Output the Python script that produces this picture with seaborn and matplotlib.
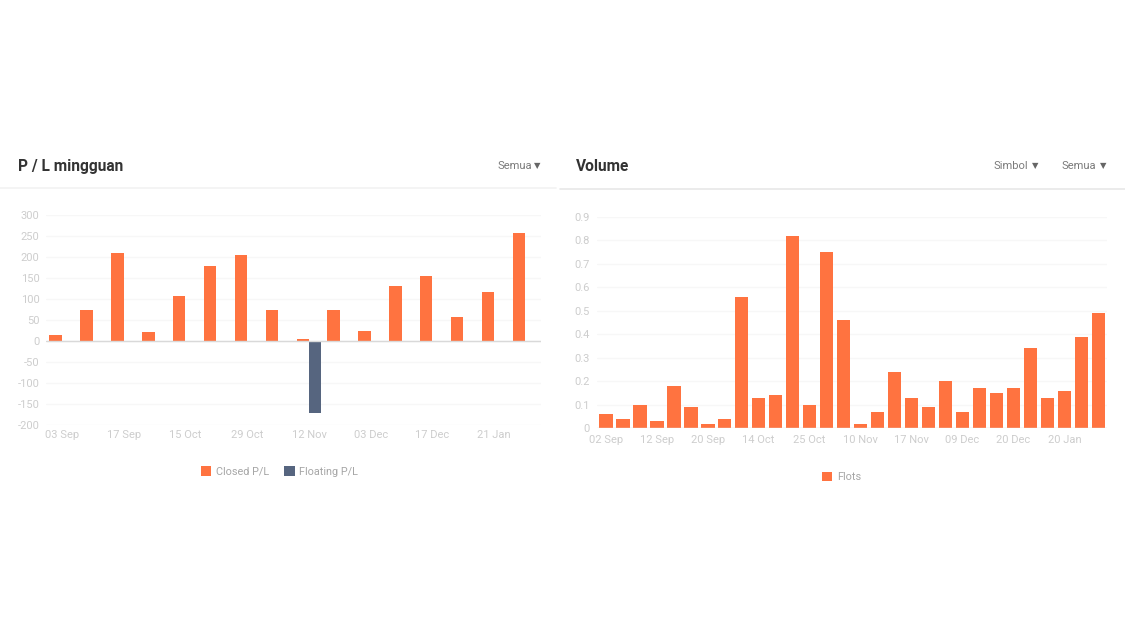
import matplotlib
matplotlib.use('Agg')
import matplotlib.pyplot as plt
from matplotlib.lines import Line2D
import seaborn as sns
import numpy as np
import pandas as pd

# weekly P/L chart
pl_weeks = ["03 Sep", "10 Sep", "17 Sep", "24 Sep", "15 Oct", "22 Oct", "29 Oct", "05 Nov",
            "12 Nov", "19 Nov", "03 Dec", "10 Dec", "17 Dec", "07 Jan", "21 Jan", "28 Jan"]
closed_pl = [14, 75, 209, 21, 107, 178, 205, 74, 5, 75, 25, 130, 155, 58, 117, 257]
floating_pl = [np.nan] * 8 + [-172] + [np.nan] * 7
pl_yticks = [-200, -150, -100, -50, 0, 50, 100, 150, 200, 250, 300]

# volume chart
vol_days = ["02 Sep", "04 Sep", "09 Sep", "12 Sep", "13 Sep", "18 Sep", "20 Sep", "24 Sep", "30 Sep",
            "14 Oct", "15 Oct", "22 Oct", "25 Oct", "28 Oct", "05 Nov", "10 Nov", "12 Nov", "14 Nov",
            "17 Nov", "19 Nov", "03 Dec", "09 Dec", "10 Dec", "17 Dec", "20 Dec", "07 Jan", "14 Jan",
            "20 Jan", "21 Jan", "28 Jan"]
flots = [0.06, 0.04, 0.10, 0.03, 0.18, 0.09, 0.02, 0.04, 0.56, 0.13, 0.14, 0.82, 0.10, 0.75, 0.46,
         0.02, 0.07, 0.24, 0.13, 0.09, 0.20, 0.07, 0.17, 0.15, 0.17, 0.34, 0.13, 0.16, 0.39, 0.49]
vol_yticks = [0, 0.1, 0.2, 0.3, 0.4, 0.5, 0.6, 0.7, 0.8, 0.9]
vol_yticklabels = ["0", "0.1", "0.2", "0.3", "0.4", "0.5", "0.6", "0.7", "0.8", "0.9"]

ORANGE = "#FF7340"
NAVY = "#56657F"
TICK_COLOR = "#CDCDCD"
LEGEND_COLOR = "#A6A6A6"
W, H = 1125, 633

sns.set_theme(style="white")
plt.rcParams['font.family'] = ['Roboto', 'DejaVu Sans']
plt.rcParams['axes.unicode_minus'] = False

fig = plt.figure(figsize=(W / 100, H / 100), dpi=100, facecolor="white")


def px_axes(left, right, top, bottom):
    return fig.add_axes([left / W, 1 - bottom / H, (right - left) / W, (bottom - top) / H])


def style_axes(ax, yticks, ylabels, xticks, xlabels, pad_x, pad_y):
    ax.set_yticks(yticks)
    ax.set_yticklabels(ylabels)
    ax.set_xticks(xticks)
    ax.set_xticklabels(xlabels)
    ax.set_xlabel("")
    ax.set_ylabel("")
    ax.tick_params(axis="y", length=0, pad=pad_y, labelsize=8, labelcolor=TICK_COLOR)
    ax.tick_params(axis="x", length=0, pad=pad_x, labelsize=8, labelcolor=TICK_COLOR)
    ax.grid(axis="y", color="#F7F7F7", linewidth=0.9)
    ax.set_axisbelow(True)
    sns.despine(ax=ax, left=True, bottom=True)


# left panel
ax1 = px_axes(46.4, 540.6, 215, 425)
pl_df = pd.DataFrame({
    "week": pl_weeks * 2,
    "value": closed_pl + floating_pl,
    "series": ["Closed P/L"] * 16 + ["Floating P/L"] * 16,
})
sns.barplot(data=pl_df, x="week", y="value", hue="series", palette=[ORANGE, NAVY],
            width=0.8, saturation=1, linewidth=0, ax=ax1)
ax1.set_ylim(-200, 300)
ax1.set_xlim(-0.5, 15.5)
style_axes(ax1, pl_yticks, [str(v) for v in pl_yticks],
           range(0, 16, 2), pl_weeks[::2], 3.5, 5.1)
ax1.axhline(0, color="#D9D9D9", linewidth=1, zorder=1)
handles, labels = ax1.get_legend_handles_labels()
ax1.legend(handles, labels, loc="center", bbox_to_anchor=((279.5 - 46.4) / 494.2, (425 - 471.5) / 210),
           ncol=2, frameon=False, fontsize=7.8, handlelength=0.95, handleheight=0.95,
           handletextpad=0.45, columnspacing=1.4, labelcolor=LEGEND_COLOR, borderpad=0)

# right panel
ax2 = px_axes(597.3, 1106.9, 216.8, 428.3)
vol_df = pd.DataFrame({"day": vol_days, "value": flots, "series": "Flots"})
sns.barplot(data=vol_df, x="day", y="value", hue="series", palette=[ORANGE],
            width=0.8, saturation=1, linewidth=0, ax=ax2)
ax2.set_ylim(0, 0.9)
ax2.set_xlim(-0.5, 29.5)
style_axes(ax2, vol_yticks, vol_yticklabels, range(0, 30, 3), vol_days[::3], 5, 5.6)
ax2.axhline(0, color="#E3E3E3", linewidth=1, zorder=1)
handles, labels = ax2.get_legend_handles_labels()
ax2.legend(handles, labels, loc="center", bbox_to_anchor=((841.5 - 597.3) / 509.6, (428.3 - 477) / 211.5),
           frameon=False, fontsize=7.8, handlelength=0.95, handleheight=0.95,
           handletextpad=0.45, labelcolor=LEGEND_COLOR, borderpad=0)

# card headers
fig.text(17.5 / W, 1 - 166.5 / H, "P / L mingguan", fontsize=11.2, fontweight="bold",
         color="#333333", va="center")
fig.text(575.5 / W, 1 - 166.5 / H, "Volume", fontsize=11.2, fontweight="bold",
         color="#333333", va="center")
for x_text, x_arrow, label in [(497, 537.5, "Semua"), (994, 1035.5, "Simbol"), (1062, 1103, "Semua")]:
    fig.text(x_text / W, 1 - 166 / H, label, fontsize=8, color="#7A7A7A", va="center")
    fig.text(x_arrow / W, 1 - 165.5 / H, "\u25BC", fontsize=6, color="#666666",
             va="center", ha="center", family="DejaVu Sans")
fig.add_artist(Line2D([0, 556 / W], [1 - 188 / H] * 2, color="#F2F2F2", linewidth=1.2))
fig.add_artist(Line2D([560 / W, 1], [1 - 188.5 / H] * 2, color="#E8E8E8", linewidth=1.2))

plt.savefig("out.png", dpi=100)
plt.close()
